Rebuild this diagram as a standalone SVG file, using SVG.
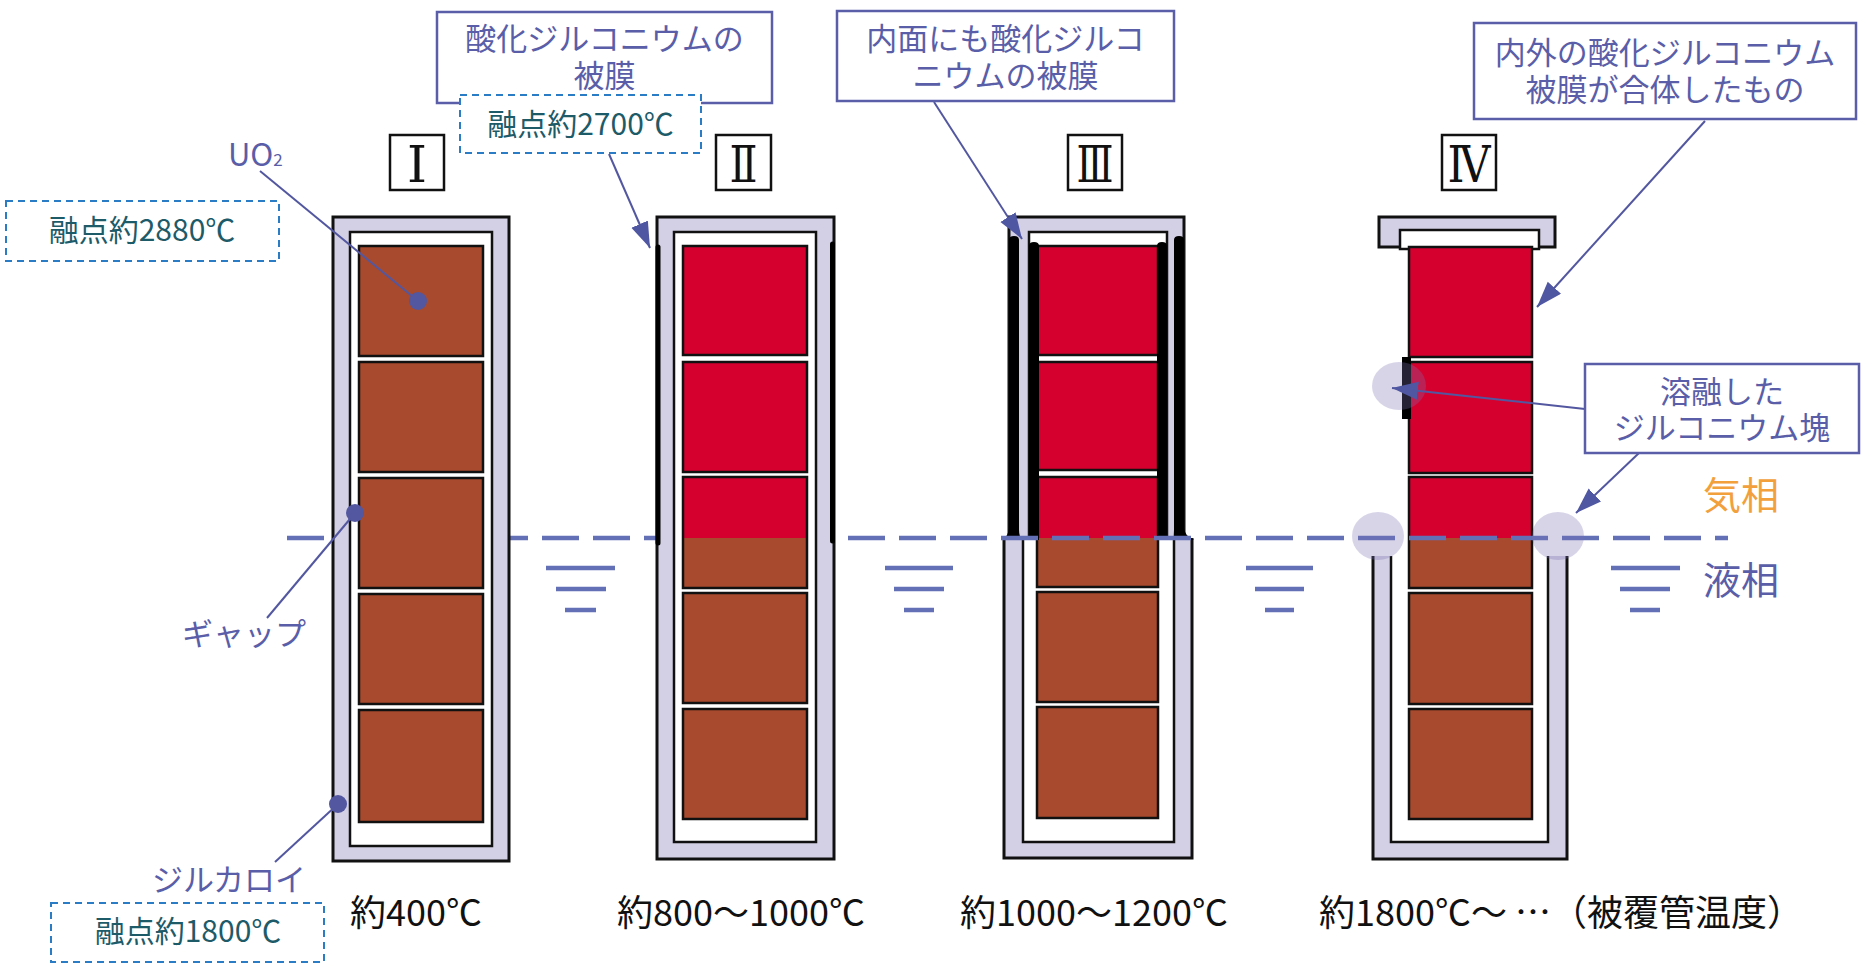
<svg xmlns="http://www.w3.org/2000/svg" width="1862" height="963" viewBox="0 0 1862 963">
  <defs>
    <!-- pellets glow red above the coolant surface (y=538), stay brown below -->
    <linearGradient id="heat" gradientUnits="userSpaceOnUse" x1="0" y1="0" x2="0" y2="963">
      <stop offset="0.5587" stop-color="#d6002f"/>
      <stop offset="0.5587" stop-color="#a84a2d"/>
    </linearGradient>
    <marker id="arrow" markerUnits="userSpaceOnUse" markerWidth="28" markerHeight="20" refX="26" refY="9" orient="auto">
      <path d="M0,0 L26,9 L0,18 Z" fill="#4f56a2"/>
    </marker>
    <style>
      .clad { fill: #d3cfe4; stroke: #111; stroke-width: 3; }
      .cladfill { fill: #d3cfe4; stroke: none; }
      .edge { fill: none; stroke: #111; stroke-width: 3; }
      .edge2 { fill: none; stroke: #111; stroke-width: 2.5; }
      .gap { fill: #fff; stroke: #111; stroke-width: 2.5; }
      .gapfill { fill: #fff; stroke: none; }
      .pel { stroke: #111; stroke-width: 2.5; }
      .cold { fill: #a84a2d; }
      .hot { fill: url(#heat); }
      .ox { fill: #000; }
      .oxline { stroke: #000; stroke-width: 5; stroke-linecap: round; fill: none; }
      .blob { fill: #7b6fb2; fill-opacity: 0.3; }
      .jp { font-family: "Noto Sans CJK JP", "Noto Sans", sans-serif; }
      .lbl { fill: #5a5ea8; font-size: 31px; }
      .mp { fill: #1e5b69; font-size: 30px; }
      .temp { fill: #111; font-size: 36px; }
      .mpbox { fill: #fff; stroke: #2a7cc4; stroke-width: 2; stroke-dasharray: 7 5; }
      .callout { fill: #fff; stroke: #5a5ea8; stroke-width: 2.5; }
      .lead { stroke: #5257a0; stroke-width: 2; fill: none; }
      .dot { fill: #5257a0; }
      .water { stroke: #6470b6; stroke-width: 4.5; fill: none; }
      .numbox { fill: #fff; stroke: #111; stroke-width: 2.5; }
      .num { font-family: "DejaVu Serif", "Liberation Serif", serif; font-size: 50px; fill: #111; }
    </style>
  </defs>

  <rect width="1862" height="963" fill="#fff"/>

  <!-- Stage III: oxide on both faces of the cladding -->
  <g id="rod-3">
    <path class="cladfill" d="M1004,538 V858 H1192 V538 Z"/>
    <path class="edge" d="M1004,538 V858 H1192 V538"/>
    <path class="gapfill" d="M1023,538 V842 H1174 V538 Z"/>
    <path class="edge2" d="M1023,538 V842 H1174 V538"/>
    <path class="cladfill" d="M1009,538 V217 H1184 V538 Z"/>
    <path class="edge" d="M1009,538 V217 H1184 V538"/>
    <path class="gapfill" d="M1029,538 V232 H1167 V538 Z"/>
    <path class="edge2" d="M1029,538 V232 H1167 V538"/>
    <rect class="pel hot" x="1037" y="246" width="121" height="109"/>
    <rect class="pel hot" x="1037" y="362" width="121" height="108"/>
    <rect class="pel hot" x="1037" y="477" width="121" height="110"/>
    <rect class="pel cold" x="1037" y="592" width="121" height="110"/>
    <rect class="pel cold" x="1037" y="707" width="121" height="111"/>
    <!-- oxide layers, flared at the waterline -->
    <path class="ox" d="M1009,240 Q1009,236 1014,236 Q1019,236 1019,240 V530 Q1019,536 1022,540 L1002,540 Q1009,535 1009,528 Z"/>
    <path class="ox" d="M1029,246 Q1029,242 1034,242 Q1039,242 1039,246 V540 L1029,540 Z"/>
    <path class="ox" d="M1157,246 Q1157,242 1162,242 Q1167,242 1167,246 V540 L1157,540 Z"/>
    <path class="ox" d="M1174,240 Q1174,236 1179,236 Q1184,236 1184,240 V528 Q1184,535 1194,540 L1173,540 Q1174,536 1174,530 Z"/>
  </g>

  <!-- Stage IV: oxide shells merged, molten zirconium lumps -->
  <g id="rod-4">
    <path class="cladfill" d="M1373,556 V859 H1567 V556 Z"/>
    <path class="edge" d="M1373,556 V859 H1567 V556"/>
    <path class="gapfill" d="M1391,556 V842 H1548 V556 Z"/>
    <path class="edge2" d="M1391,556 V842 H1548 V556"/>
    <rect class="clad" x="1379" y="217" width="176" height="30"/>
    <rect class="gap" x="1400" y="230" width="139" height="19"/>
    <rect class="pel hot" x="1409" y="247" width="123" height="110"/>
    <rect class="pel hot" x="1409" y="362" width="123" height="111"/>
    <rect class="pel hot" x="1409" y="477" width="123" height="111"/>
    <rect class="pel cold" x="1409" y="593" width="123" height="111"/>
    <rect class="pel cold" x="1409" y="709" width="123" height="110"/>
    <rect class="ox" x="1402" y="357" width="9" height="62"/>
  </g>

  <!-- coolant surface -->
  <g id="water">
    <line class="water" x1="287" y1="538" x2="1728" y2="538" stroke-dasharray="37 14"/>
    <path class="water" d="M546,568 H615 M556,589 H606 M565,610 H596"/>
    <path class="water" d="M885,568 H953 M894,589 H944 M904,610 H934"/>
    <path class="water" d="M1246,568 H1313 M1255,589 H1304 M1265,610 H1294"/>
    <path class="water" d="M1611,568 H1680 M1620,589 H1670 M1630,610 H1660"/>
  </g>

  <g id="rod-4-melt">
    <ellipse class="blob" cx="1399" cy="386" rx="27" ry="24"/>
    <ellipse class="blob" cx="1378" cy="536" rx="26" ry="24"/>
    <ellipse class="blob" cx="1558" cy="536" rx="26" ry="24"/>
  </g>

  <!-- Stage I: intact rod -->
  <g id="rod-1">
    <rect class="clad" x="333" y="217" width="176" height="644"/>
    <rect class="gap" x="350" y="232" width="142" height="614"/>
    <rect class="pel cold" x="359" y="246" width="124" height="110"/>
    <rect class="pel cold" x="359" y="362" width="124" height="110"/>
    <rect class="pel cold" x="359" y="478" width="124" height="110"/>
    <rect class="pel cold" x="359" y="594" width="124" height="110"/>
    <rect class="pel cold" x="359" y="710" width="124" height="112"/>
  </g>

  <!-- Stage II: outer oxide film -->
  <g id="rod-2">
    <rect class="clad" x="657" y="217" width="177" height="642"/>
    <rect class="gap" x="674" y="232" width="142" height="610"/>
    <rect class="pel hot" x="683" y="246" width="124" height="109"/>
    <rect class="pel hot" x="683" y="362" width="124" height="110"/>
    <rect class="pel hot" x="683" y="477" width="124" height="111"/>
    <rect class="pel cold" x="683" y="593" width="124" height="110"/>
    <rect class="pel cold" x="683" y="709" width="124" height="110"/>
    <line class="oxline" x1="658" y1="247" x2="658" y2="543"/>
    <line class="oxline" x1="832.5" y1="244" x2="832.5" y2="541"/>
  </g>

  <!-- stage numbers -->
  <g id="stage-numbers">
    <rect class="numbox" x="390" y="135" width="54" height="55"/>
    <text class="num" x="417" y="182" text-anchor="middle" textLength="20" lengthAdjust="spacingAndGlyphs">Ⅰ</text>
    <rect class="numbox" x="716" y="135" width="55" height="55"/>
    <text class="num" x="743.5" y="182" text-anchor="middle" textLength="28" lengthAdjust="spacingAndGlyphs">Ⅱ</text>
    <rect class="numbox" x="1068" y="135" width="54" height="55"/>
    <text class="num" x="1095" y="182" text-anchor="middle" textLength="37" lengthAdjust="spacingAndGlyphs">Ⅲ</text>
    <rect class="numbox" x="1442" y="135" width="54" height="55"/>
    <text class="num" x="1469" y="182" text-anchor="middle" textLength="43" lengthAdjust="spacingAndGlyphs">Ⅳ</text>
  </g>

  <!-- cladding temperatures -->
  <g id="temperatures" class="jp temp">
    <text x="416" y="926" text-anchor="middle">約400℃</text>
    <text x="741" y="926" text-anchor="middle">約800～1000℃</text>
    <text x="1094" y="926" text-anchor="middle">約1000～1200℃</text>
    <text x="1319" y="926">約1800℃～ …（被覆管温度）</text>
  </g>

  <g id="connectors">
    <line class="lead" x1="260" y1="171" x2="418" y2="301"/>
    <line class="lead" x1="267" y1="618" x2="355" y2="513"/>
    <line class="lead" x1="275" y1="862" x2="338" y2="804"/>
    <line class="lead" x1="609" y1="154" x2="650" y2="248" marker-end="url(#arrow)"/>
    <line class="lead" x1="934" y1="102" x2="1022" y2="239" marker-end="url(#arrow)"/>
    <line class="lead" x1="1705" y1="121" x2="1537" y2="307" marker-end="url(#arrow)"/>
    <line class="lead" x1="1585" y1="409" x2="1392" y2="388" marker-end="url(#arrow)"/>
    <line class="lead" x1="1639" y1="453" x2="1576" y2="513" marker-end="url(#arrow)"/>
    <circle class="dot" cx="418" cy="301" r="9"/>
    <circle class="dot" cx="355" cy="513" r="9"/>
    <circle class="dot" cx="338" cy="804" r="9"/>
  </g>

  <g id="label-uo2" class="jp lbl">
    <text x="228" y="166">UO<tspan font-size="17">2</tspan></text>
  </g>
  <g id="label-gap" class="jp lbl">
    <text x="244" y="645" text-anchor="middle">ギャップ</text>
  </g>
  <g id="label-zircaloy" class="jp lbl">
    <text x="229" y="891" text-anchor="middle">ジルカロイ</text>
  </g>

  <g id="mp-uo2">
    <rect class="mpbox" x="6" y="201" width="273" height="60"/>
    <text class="jp mp" x="142" y="241" text-anchor="middle">融点約2880℃</text>
  </g>
  <g id="mp-zircaloy">
    <rect class="mpbox" x="51" y="903" width="273" height="59"/>
    <text class="jp mp" x="188" y="942" text-anchor="middle">融点約1800℃</text>
  </g>

  <g id="callout-oxide">
    <rect class="callout" x="437" y="12" width="335" height="91"/>
    <text class="jp lbl" font-size="32" x="604.5" y="50" text-anchor="middle">酸化ジルコニウムの</text>
    <text class="jp lbl" font-size="32" x="604.5" y="87" text-anchor="middle">被膜</text>
  </g>
  <g id="mp-oxide">
    <rect class="mpbox" x="460" y="95" width="241" height="58"/>
    <text class="jp mp" x="580.5" y="135" text-anchor="middle">融点約2700℃</text>
  </g>
  <g id="callout-inner">
    <rect class="callout" x="837" y="11" width="337" height="90"/>
    <text class="jp lbl" font-size="32" x="1005.5" y="50" text-anchor="middle">内面にも酸化ジルコ</text>
    <text class="jp lbl" font-size="32" x="1005.5" y="87" text-anchor="middle">ニウムの被膜</text>
  </g>
  <g id="callout-merged">
    <rect class="callout" x="1474" y="23" width="382" height="96"/>
    <text class="jp lbl" font-size="32" x="1665" y="64" text-anchor="middle">内外の酸化ジルコニウム</text>
    <text class="jp lbl" font-size="32" x="1665" y="101" text-anchor="middle">被膜が合体したもの</text>
  </g>
  <g id="callout-melt">
    <rect class="callout" x="1585" y="364" width="274" height="89"/>
    <text class="jp lbl" x="1722" y="403" text-anchor="middle">溶融した</text>
    <text class="jp lbl" x="1722" y="439" text-anchor="middle">ジルコニウム塊</text>
  </g>

  <g id="phases" class="jp">
    <text x="1703" y="509" font-size="38" fill="#f2a03c">気相</text>
    <text x="1703" y="594" font-size="38" fill="#5a5ea8">液相</text>
  </g>
</svg>
